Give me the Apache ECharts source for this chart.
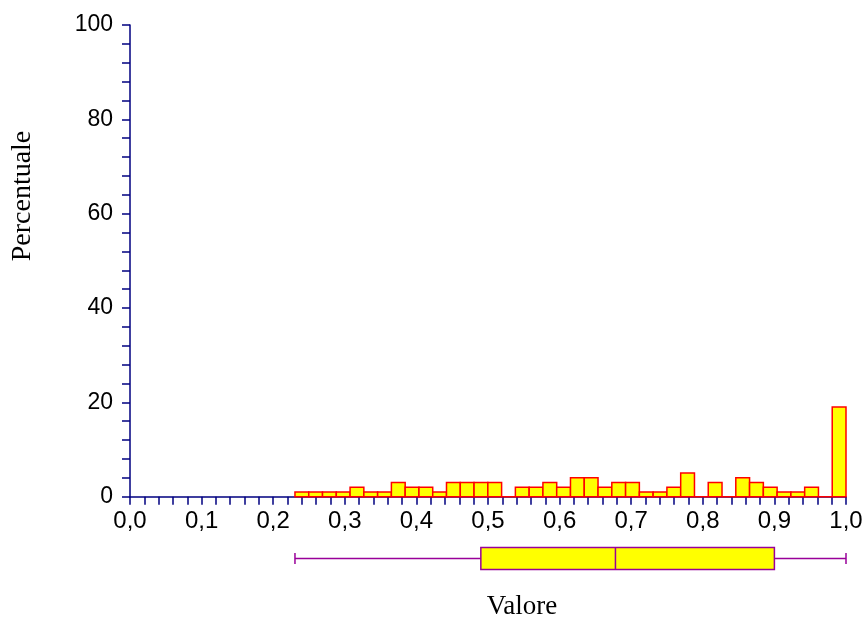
<!DOCTYPE html>
<html>
<head>
<meta charset="utf-8">
<script src="https://cdn.jsdelivr.net/npm/echarts@6/dist/echarts.min.js"></script>
<style>html,body{margin:0;padding:0;background:#fff}#c{width:864px;height:619px}</style>
</head>
<body>
<div id="c"></div>
<script>
// Histogram: 40 bins starting at binStart with width binWidth; values in percent
const binStart = 0.2304;
const binWidth = 0.01924;
const percentages = [1,1,1,1,2,1,1,3,2,2, 1,3,3,3,3,0,2,2,3,2, 4,4,2,3,3,1,1,2,5,0, 3,0,4,3,2,1,1,2,0,19];
// Box plot: min, Q1, median, Q3, max
const boxStats = [0.2304, 0.490, 0.678, 0.900, 1.0];
const xTitle = 'Valore';
const yTitle = 'Percentuale';

const axisBlue = '#000080';
const boxPurple = '#990099';

const histData = percentages.map((v, i) => [binStart + i * binWidth, binStart + (i + 1) * binWidth, v]);

const chart = echarts.init(document.getElementById('c'), null, {renderer: 'canvas'});
const fam = 'Liberation Sans, Arial, sans-serif';
chart.setOption({
  animation: false,
  grid: [
    {left: 130, right: 18, top: 25, height: 471.7, outerBoundsMode: 'none', containLabel: false},
    {left: 130, right: 18, top: 547.5, height: 22, outerBoundsMode: 'none', containLabel: false}
  ],
  xAxis: [
    {
      type: 'value', gridIndex: 0, min: 0, max: 1, interval: 0.1,
      axisLine: {show: true, lineStyle: {color: axisBlue, width: 1.5}},
      axisTick: {show: true, length: 8, lineStyle: {color: axisBlue, width: 1.5}},
      minorTick: {show: true, splitNumber: 5, length: 8, lineStyle: {color: axisBlue, width: 1.5}},
      splitLine: {show: false}, minorSplitLine: {show: false},
      axisLabel: {margin: 13, color: '#000', fontFamily: fam, fontSize: 24, hideOverlap: false,
        formatter: v => v.toFixed(1).replace('.', ',')}
    },
    {type: 'value', gridIndex: 1, min: 0, max: 1, show: false}
  ],
  yAxis: [
    {
      type: 'value', gridIndex: 0, min: 0, max: 100, interval: 20,
      axisLine: {show: true, lineStyle: {color: axisBlue, width: 1.5}},
      axisTick: {show: true, length: 8, lineStyle: {color: axisBlue, width: 1.5}},
      minorTick: {show: true, splitNumber: 5, length: 8, lineStyle: {color: axisBlue, width: 1.5}},
      splitLine: {show: false}, minorSplitLine: {show: false},
      axisLabel: {margin: 17, color: '#000', fontFamily: fam, fontSize: 23, padding: [5, 0, 0, 0]}
    },
    {type: 'value', gridIndex: 1, min: 0, max: 1, show: false}
  ],
  series: [
    {
      type: 'custom', xAxisIndex: 0, yAxisIndex: 0, z: 5,
      encode: {x: [0, 1], y: 2},
      data: histData,
      renderItem: function (params, api) {
        const p0 = api.coord([api.value(0), api.value(2)]);
        const p1 = api.coord([api.value(1), 0]);
        return {
          type: 'rect',
          shape: {x: p0[0], y: p0[1], width: p1[0] - p0[0], height: p1[1] - p0[1]},
          style: {fill: '#ffff00', stroke: '#ff0000', lineWidth: 1.5}
        };
      }
    },
    {
      type: 'custom', xAxisIndex: 1, yAxisIndex: 1, z: 5,
      encode: {x: [0, 1, 2, 3, 4]},
      data: [boxStats],
      renderItem: function (params, api) {
        const v = [0, 1, 2, 3, 4].map(i => api.value(i));
        const top = api.coord([v[0], 1])[1];
        const bot = api.coord([v[0], 0])[1];
        const mid = api.coord([v[0], 0.5])[1];
        const capT = api.coord([v[0], 0.75])[1];
        const capB = api.coord([v[0], 0.25])[1];
        const x = v.map(val => api.coord([val, 0.5])[0]);
        const ls = {stroke: boxPurple, lineWidth: 1.5};
        return {
          type: 'group',
          children: [
            {type: 'line', shape: {x1: x[0], y1: mid, x2: x[1], y2: mid}, style: ls},
            {type: 'line', shape: {x1: x[3], y1: mid, x2: x[4], y2: mid}, style: ls},
            {type: 'line', shape: {x1: x[0], y1: capT, x2: x[0], y2: capB}, style: ls},
            {type: 'line', shape: {x1: x[4], y1: capT, x2: x[4], y2: capB}, style: ls},
            {type: 'rect', shape: {x: x[1], y: top, width: x[3] - x[1], height: bot - top},
              style: {fill: '#ffff00', stroke: boxPurple, lineWidth: 1.5}},
            {type: 'line', shape: {x1: x[2], y1: top, x2: x[2], y2: bot}, style: ls}
          ]
        };
      }
    }
  ],
  graphic: [
    {type: 'text', x: 23, y: 196, rotation: Math.PI / 2,
      style: {text: yTitle, fill: '#000', font: '28px "Liberation Serif", "Times New Roman", serif',
        textAlign: 'center', textVerticalAlign: 'middle'}},
    {type: 'text', x: 522, y: 607,
      style: {text: xTitle, fill: '#000', font: '27px "Liberation Serif", "Times New Roman", serif',
        textAlign: 'center', textVerticalAlign: 'middle'}}
  ]
});
</script>
</body>
</html>
